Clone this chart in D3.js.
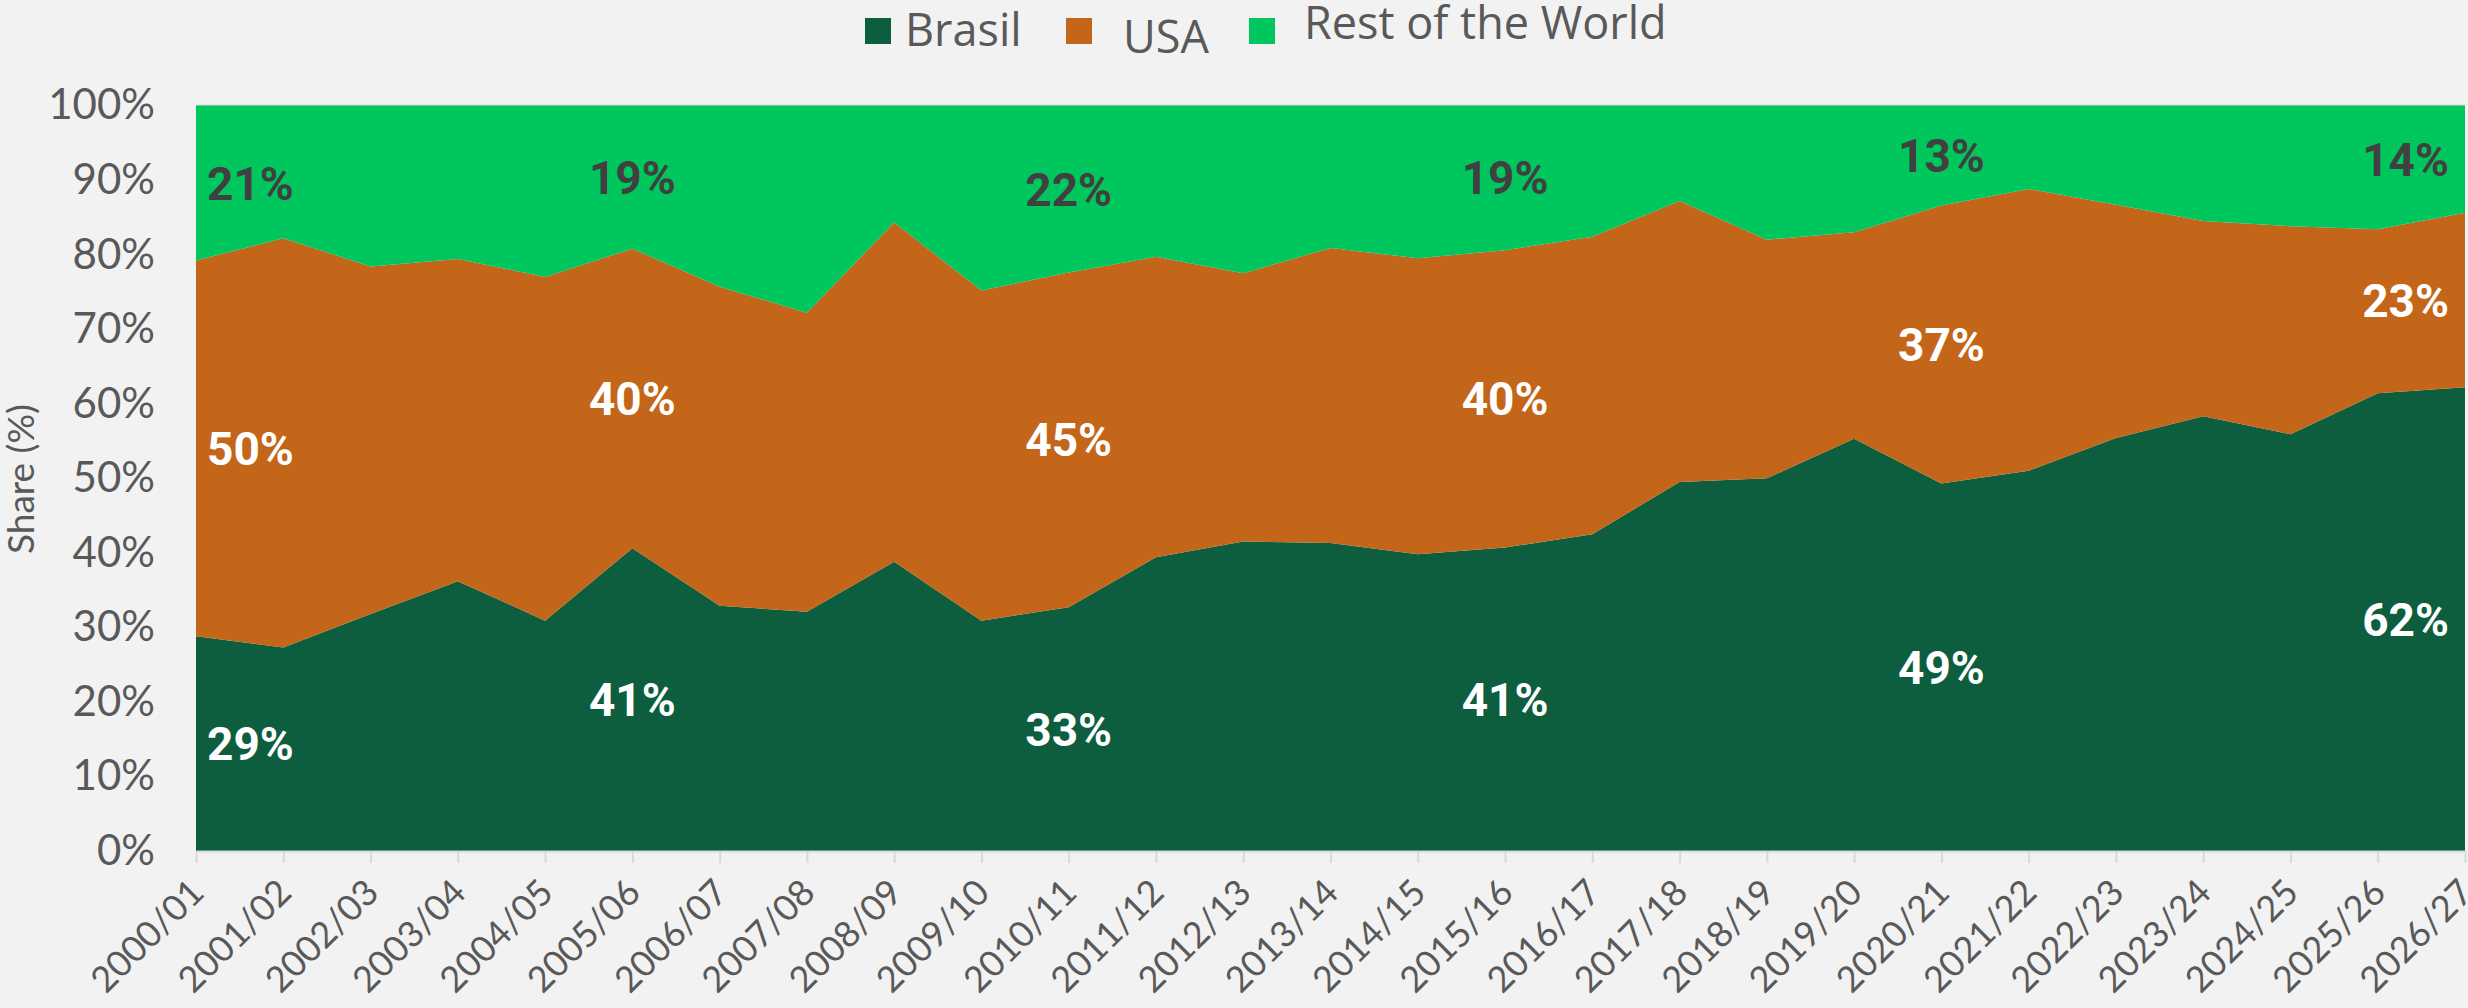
<!DOCTYPE html>
<html>
<head>
<meta charset="utf-8">
<script src="https://cdn.jsdelivr.net/npm/d3@7"></script>
<style>
    body { margin: 0; background: #f2f2f2; }
    svg { display: block; }
</style>
</head>
<body>
<svg id="chart" width="2468" height="1008"></svg>
<script>
var years = ["2000/01", "2001/02", "2002/03", "2003/04", "2004/05", "2005/06", "2006/07",
    "2007/08", "2008/09", "2009/10", "2010/11", "2011/12", "2012/13", "2013/14", "2014/15",
    "2015/16", "2016/17", "2017/18", "2018/19", "2019/20", "2020/21", "2021/22", "2022/23",
    "2023/24", "2024/25", "2025/26", "2026/27"];

// shares in %
var brasil = [28.8, 27.3, 31.8, 36.2, 30.9, 40.6, 32.9, 32.1, 38.8, 30.9, 32.7, 39.4, 41.5, 41.3,
    39.8, 40.7, 42.5, 49.5, 50.0, 55.3, 49.3, 51.0, 55.4, 58.3, 55.9, 61.4, 62.2];
var usa = [50.4, 54.9, 46.6, 43.2, 46.1, 40.2, 42.8, 40.1, 45.5, 44.3, 44.9, 40.3, 36.0, 39.6,
    39.7, 39.9, 39.9, 37.7, 32.0, 27.7, 37.3, 37.8, 31.3, 26.2, 27.9, 22.0, 23.4];
var restOfWorld = [20.8, 17.8, 21.6, 20.6, 23.0, 19.2, 24.3, 27.8, 15.7, 24.8, 22.4, 20.3, 22.5, 19.1,
    20.5, 19.4, 17.6, 12.8, 18.0, 17.0, 13.4, 11.2, 13.3, 15.5, 16.2, 16.6, 14.4];

var seriesNames = ["Brasil", "USA", "Rest of the World"];
var seriesKeys = ["brasil", "usa", "row"];
var seriesColors = ["#0d5e3f", "#c4661a", "#00c65e"];
var labelColors = ["#ffffff", "#ffffff", "#404040"];
var labelledYears = [0, 5, 10, 15, 20, 26];
var yTicks = [0, 10, 20, 30, 40, 50, 60, 70, 80, 90, 100];

// legend layout (the original has uneven baselines)
var legendLayout = [
    { box: 865, text: 905, base: 46 },
    { box: 1066, text: 1123, base: 53 },
    { box: 1249, text: 1304, base: 39 }
];

var table = years.map(function(yr, i)
{
    return { year: yr, brasil: brasil[i], usa: usa[i], row: restOfWorld[i] };
});

var svg = d3.select("#chart"),
    width = +svg.attr("width"),
    height = +svg.attr("height"),
    plotLeft = 196,
    plotRight = 2465,
    plotTop = 105.5,
    plotBottom = 851;

svg.append("rect")
    .attr("width", width)
    .attr("height", height)
    .attr("fill", "#f2f2f2");

var x = d3.scalePoint()
    .domain(years)
    .range([plotLeft, plotRight]);

var y = d3.scaleLinear()
    .domain([0, 100])
    .range([plotBottom, plotTop]);

var stack = d3.stack().keys(seriesKeys);
var layers = stack(table);

var area = d3.area()
    .x(function(d) { return x(d.data.year); })
    .y0(function(d) { return y(d[0]); })
    .y1(function(d) { return y(d[1]); });

svg.append("line")
    .attr("x1", plotLeft).attr("x2", plotRight)
    .attr("y1", y(100)).attr("y2", y(100))
    .attr("stroke", "#d9d9d9")
    .attr("stroke-width", 2);

svg.append("g")
    .attr("class", "areas")
    .selectAll("path")
    .data(layers)
    .enter().append("path")
    .attr("d", area)
    .attr("fill", function(d, i) { return seriesColors[i]; });

// x axis
var xAxis = svg.append("g")
    .attr("transform", "translate(0," + plotBottom + ")")
    .call(d3.axisBottom(x).tickSize(12).tickSizeOuter(0));

xAxis.select(".domain").attr("stroke", "#d9d9d9").attr("stroke-width", 2);
xAxis.selectAll(".tick line").attr("stroke", "#d9d9d9").attr("stroke-width", 2);
xAxis.selectAll(".tick text")
    .attr("x", 0)
    .attr("y", 0)
    .attr("dy", "0.3em")
    .attr("transform", "translate(2,36) rotate(-45)")
    .style("text-anchor", "end")
    .style("font-family", "Lato, sans-serif")
    .style("font-size", "36px")
    .attr("fill", "#595959");

// y axis
var yAxis = svg.append("g")
    .attr("transform", "translate(" + plotLeft + ",0)")
    .call(d3.axisLeft(y)
        .tickValues(yTicks)
        .tickFormat(function(d) { return d + "%"; })
        .tickSize(0)
        .tickPadding(41));

yAxis.select(".domain").remove();
yAxis.selectAll(".tick text")
    .style("font-family", "Lato, sans-serif")
    .style("font-size", "42px")
    .attr("fill", "#595959");

svg.append("text")
    .attr("transform", "translate(34,479) rotate(-90)")
    .attr("text-anchor", "middle")
    .style("font-family", "Lato, sans-serif")
    .style("font-size", "37px")
    .attr("fill", "#595959")
    .text("Share (%)");

// data labels at band middles
var labels = [];
layers.forEach(function(layer, s)
{
    labelledYears.forEach(function(idx)
    {
        var d = layer[idx];
        labels.push({ s: s, idx: idx, value: d[1] - d[0], mid: (d[0] + d[1]) / 2 });
    });
});

svg.append("g")
    .attr("class", "labels")
    .selectAll("text")
    .data(labels)
    .enter().append("text")
    .attr("x", function(d)
    {
        var px = x(years[d.idx]);
        if (d.idx == 0) return px + 11;
        if (d.idx == years.length - 1) return px - 16;
        return px;
    })
    .attr("y", function(d) { return y(d.mid); })
    .attr("dy", "0.36em")
    .attr("text-anchor", function(d)
    {
        if (d.idx == 0) return "start";
        if (d.idx == years.length - 1) return "end";
        return "middle";
    })
    .style("font-family", "Roboto, sans-serif")
    .style("font-weight", "bold")
    .style("font-size", "46px")
    .attr("fill", function(d) { return labelColors[d.s]; })
    .text(function(d) { return Math.round(d.value) + "%"; });

// legend
var legend = svg.append("g")
    .attr("class", "legend")
    .selectAll("g")
    .data(seriesNames)
    .enter().append("g");

legend.append("rect")
    .attr("x", function(d, i) { return legendLayout[i].box; })
    .attr("y", 18)
    .attr("width", 26)
    .attr("height", 26)
    .attr("fill", function(d, i) { return seriesColors[i]; });

legend.append("text")
    .attr("x", function(d, i) { return legendLayout[i].text; })
    .attr("y", function(d, i) { return legendLayout[i].base; })
    .style("font-family", "'Open Sans', sans-serif")
    .style("font-size", "45px")
    .attr("fill", "#595959")
    .text(function(d) { return d; });
</script>
</body>
</html>
